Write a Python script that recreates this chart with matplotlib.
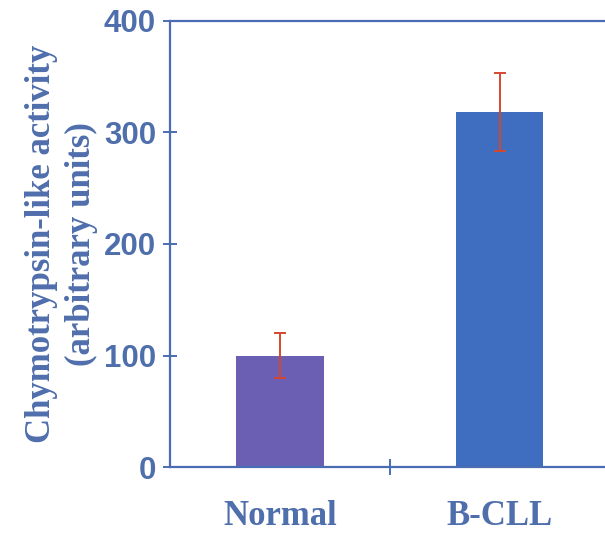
import matplotlib
matplotlib.use("Agg")
import matplotlib.pyplot as plt
from matplotlib.ticker import FixedLocator, NullFormatter

# ── data ──────────────────────────────────────────────────────────────────────
groups   = ["Normal", "B-CLL"]
activity = [100, 318]
err      = [20, 35]
y_ticks  = [0, 100, 200, 300, 400]

BLUE   = "#4a6cb3"
TEXT   = "#4f6eac"
BARS   = ["#6a5fb3", "#3f6dc0"]
ERRCOL = "#d5472f"

fig = plt.figure(figsize=(6.05, 5.35), dpi=100)
ax = fig.add_axes([0.281, 0.127, 0.719, 0.834])

x = list(range(len(groups)))
ax.bar(x, activity, width=0.40, color=BARS, zorder=2)
ax.errorbar(x, activity, yerr=err, fmt="none", ecolor=ERRCOL,
            elinewidth=1.4, capsize=4, capthick=1.4, zorder=3)

ax.set_xlim(-0.5, 1.48)
ax.set_ylim(0, 400)

for side in ["left", "top", "bottom"]:
    ax.spines[side].set_color(BLUE)
    ax.spines[side].set_linewidth(1.6)
ax.spines["right"].set_visible(False)

ax.set_yticks(y_ticks)
ax.tick_params(axis="y", direction="inout", length=10, width=1.4,
               color=BLUE, pad=5, labelsize=22.5, labelcolor=TEXT)
for lbl in ax.get_yticklabels():
    lbl.set_fontfamily("Liberation Sans")
    lbl.set_fontweight("bold")

# separator tick between groups, labels at group centres
ax.xaxis.set_major_locator(FixedLocator([0.5]))
ax.xaxis.set_major_formatter(NullFormatter())
ax.xaxis.set_minor_locator(FixedLocator(x))
ax.set_xticklabels(groups, minor=True, fontfamily="Liberation Serif",
                   fontweight="bold", fontsize=25, color=TEXT)
ax.tick_params(axis="x", which="minor", length=0, pad=24)
ax.tick_params(axis="x", which="major", direction="inout", length=12,
               width=1.4, color=BLUE)

ax.set_ylabel("Chymotrypsin-like activity\n(arbitrary units)",
              fontfamily="Liberation Serif", fontweight="bold",
              fontsize=25, color=TEXT, linespacing=1.3, labelpad=4)

fig.savefig("out.png", dpi=100)
